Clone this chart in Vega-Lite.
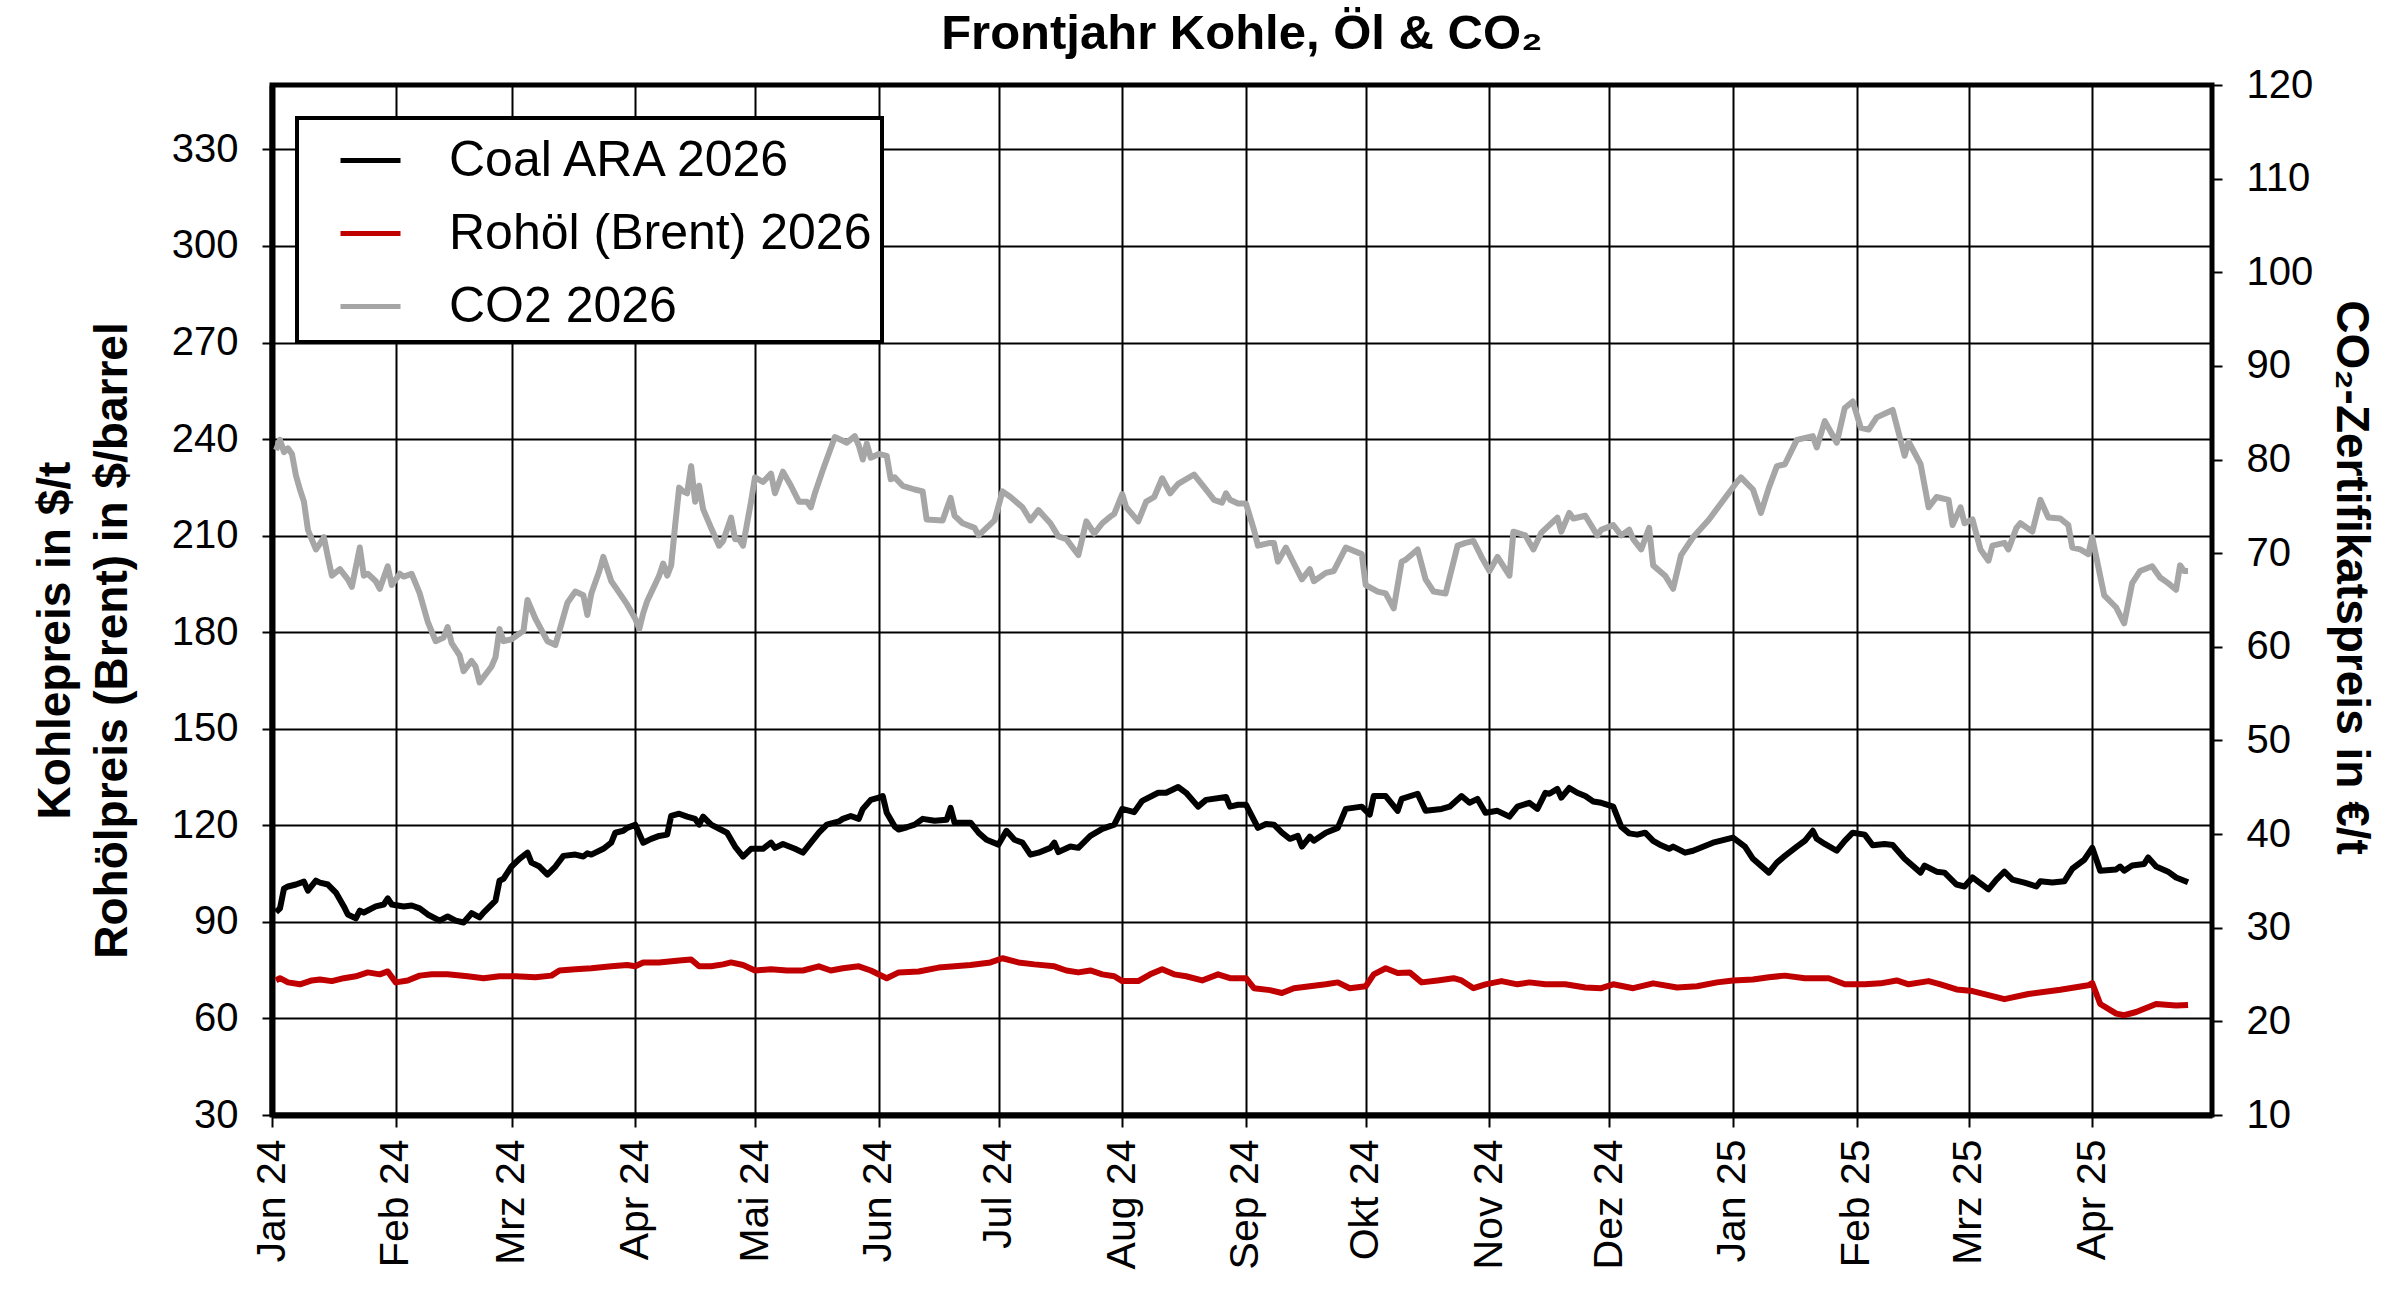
{
  "$schema": "https://vega.github.io/schema/vega-lite/v6.json",
  "autosize": {"type": "none"},
  "width": 1940,
  "height": 1030,
  "padding": {"left": 272, "top": 85, "right": 188, "bottom": 176},
  "background": "white",
  "title": {
    "text": "Frontjahr Kohle, Öl & CO₂",
    "font": "Liberation Sans",
    "fontSize": 49,
    "fontWeight": "bold",
    "color": "black",
    "anchor": "middle",
    "offset": 6
  },
  "config": {
    "font": "Liberation Sans",
    "view": {"stroke": "black", "strokeWidth": 5},
    "axis": {
      "labelColor": "black",
      "titleColor": "black",
      "tickColor": "black",
      "domainColor": "black",
      "gridColor": "black",
      "gridOpacity": 1,
      "labelFont": "Liberation Sans",
      "titleFont": "Liberation Sans"
    },
    "legend": {
      "strokeColor": "black",
      "strokeWidth": 4,
      "fillColor": "white",
      "padding": 10,
      "labelFont": "Liberation Sans"
    }
  },
  "datasets": {
    "coal": [
      {"date": "2024-01-02", "value": 93.0}, {"date": "2024-01-03", "value": 94.2}, {"date": "2024-01-04", "value": 100.3},
      {"date": "2024-01-05", "value": 101.0}, {"date": "2024-01-07", "value": 101.6}, {"date": "2024-01-09", "value": 102.5},
      {"date": "2024-01-10", "value": 99.7}, {"date": "2024-01-12", "value": 102.8}, {"date": "2024-01-13", "value": 102.2},
      {"date": "2024-01-15", "value": 101.6}, {"date": "2024-01-17", "value": 99.1}, {"date": "2024-01-19", "value": 94.8},
      {"date": "2024-01-20", "value": 92.3}, {"date": "2024-01-22", "value": 91.1}, {"date": "2024-01-23", "value": 93.5},
      {"date": "2024-01-24", "value": 92.9}, {"date": "2024-01-27", "value": 94.8}, {"date": "2024-01-29", "value": 95.4},
      {"date": "2024-01-30", "value": 97.3}, {"date": "2024-01-31", "value": 95.4}, {"date": "2024-02-03", "value": 94.8},
      {"date": "2024-02-05", "value": 95.1}, {"date": "2024-02-07", "value": 94.2}, {"date": "2024-02-09", "value": 92.3},
      {"date": "2024-02-12", "value": 90.4}, {"date": "2024-02-14", "value": 91.7}, {"date": "2024-02-16", "value": 90.4},
      {"date": "2024-02-18", "value": 89.8}, {"date": "2024-02-20", "value": 92.7}, {"date": "2024-02-22", "value": 91.4},
      {"date": "2024-02-23", "value": 92.9}, {"date": "2024-02-26", "value": 96.6}, {"date": "2024-02-27", "value": 102.8},
      {"date": "2024-02-28", "value": 103.4}, {"date": "2024-03-01", "value": 107.2}, {"date": "2024-03-03", "value": 109.6},
      {"date": "2024-03-05", "value": 111.5}, {"date": "2024-03-06", "value": 108.4}, {"date": "2024-03-08", "value": 107.2},
      {"date": "2024-03-10", "value": 104.7}, {"date": "2024-03-12", "value": 107.2}, {"date": "2024-03-14", "value": 110.5},
      {"date": "2024-03-17", "value": 110.9}, {"date": "2024-03-19", "value": 110.3}, {"date": "2024-03-20", "value": 111.3},
      {"date": "2024-03-21", "value": 110.9}, {"date": "2024-03-24", "value": 112.7}, {"date": "2024-03-26", "value": 114.6},
      {"date": "2024-03-27", "value": 117.7}, {"date": "2024-03-29", "value": 118.3}, {"date": "2024-03-30", "value": 119.2},
      {"date": "2024-04-01", "value": 120.2}, {"date": "2024-04-03", "value": 114.6}, {"date": "2024-04-05", "value": 115.8},
      {"date": "2024-04-07", "value": 116.7}, {"date": "2024-04-09", "value": 117.1}, {"date": "2024-04-10", "value": 122.9},
      {"date": "2024-04-12", "value": 123.6}, {"date": "2024-04-14", "value": 122.7}, {"date": "2024-04-16", "value": 122.0},
      {"date": "2024-04-17", "value": 120.2}, {"date": "2024-04-18", "value": 122.7}, {"date": "2024-04-20", "value": 120.2},
      {"date": "2024-04-23", "value": 118.3}, {"date": "2024-04-24", "value": 117.7}, {"date": "2024-04-26", "value": 113.4},
      {"date": "2024-04-28", "value": 110.3}, {"date": "2024-04-30", "value": 112.7}, {"date": "2024-05-03", "value": 112.7},
      {"date": "2024-05-05", "value": 114.6}, {"date": "2024-05-06", "value": 113.0}, {"date": "2024-05-08", "value": 114.2},
      {"date": "2024-05-11", "value": 112.7}, {"date": "2024-05-13", "value": 111.5}, {"date": "2024-05-15", "value": 114.6},
      {"date": "2024-05-17", "value": 117.7}, {"date": "2024-05-19", "value": 120.2}, {"date": "2024-05-22", "value": 121.2},
      {"date": "2024-05-23", "value": 122.0}, {"date": "2024-05-25", "value": 122.9}, {"date": "2024-05-27", "value": 122.0},
      {"date": "2024-05-28", "value": 125.1}, {"date": "2024-05-30", "value": 127.9}, {"date": "2024-06-01", "value": 128.6},
      {"date": "2024-06-02", "value": 129.1}, {"date": "2024-06-03", "value": 123.9}, {"date": "2024-06-05", "value": 119.6},
      {"date": "2024-06-06", "value": 118.7}, {"date": "2024-06-08", "value": 119.4}, {"date": "2024-06-10", "value": 120.2},
      {"date": "2024-06-12", "value": 122.0}, {"date": "2024-06-15", "value": 121.4}, {"date": "2024-06-18", "value": 121.7},
      {"date": "2024-06-19", "value": 125.4}, {"date": "2024-06-20", "value": 120.8}, {"date": "2024-06-22", "value": 120.8},
      {"date": "2024-06-24", "value": 120.8}, {"date": "2024-06-26", "value": 117.7}, {"date": "2024-06-28", "value": 115.5},
      {"date": "2024-07-01", "value": 114.0}, {"date": "2024-07-03", "value": 118.3}, {"date": "2024-07-05", "value": 115.5},
      {"date": "2024-07-07", "value": 114.6}, {"date": "2024-07-09", "value": 110.9}, {"date": "2024-07-11", "value": 111.5},
      {"date": "2024-07-14", "value": 113.0}, {"date": "2024-07-15", "value": 114.6}, {"date": "2024-07-16", "value": 111.7},
      {"date": "2024-07-19", "value": 113.4}, {"date": "2024-07-21", "value": 113.0}, {"date": "2024-07-24", "value": 116.7},
      {"date": "2024-07-27", "value": 118.9}, {"date": "2024-07-30", "value": 120.2}, {"date": "2024-08-01", "value": 125.1},
      {"date": "2024-08-04", "value": 124.1}, {"date": "2024-08-06", "value": 127.6}, {"date": "2024-08-10", "value": 130.1},
      {"date": "2024-08-12", "value": 130.1}, {"date": "2024-08-15", "value": 131.9}, {"date": "2024-08-17", "value": 130.1},
      {"date": "2024-08-20", "value": 125.8}, {"date": "2024-08-22", "value": 127.9}, {"date": "2024-08-27", "value": 128.8},
      {"date": "2024-08-28", "value": 125.8}, {"date": "2024-08-30", "value": 126.4}, {"date": "2024-09-01", "value": 126.4},
      {"date": "2024-09-04", "value": 119.2}, {"date": "2024-09-06", "value": 120.4}, {"date": "2024-09-08", "value": 120.2},
      {"date": "2024-09-10", "value": 117.7}, {"date": "2024-09-12", "value": 115.8}, {"date": "2024-09-14", "value": 116.7},
      {"date": "2024-09-15", "value": 113.4}, {"date": "2024-09-17", "value": 116.5}, {"date": "2024-09-18", "value": 115.2},
      {"date": "2024-09-21", "value": 117.7}, {"date": "2024-09-24", "value": 119.2}, {"date": "2024-09-26", "value": 125.1},
      {"date": "2024-09-30", "value": 125.8}, {"date": "2024-10-02", "value": 123.3}, {"date": "2024-10-03", "value": 129.1},
      {"date": "2024-10-06", "value": 129.1}, {"date": "2024-10-09", "value": 124.5}, {"date": "2024-10-10", "value": 128.2},
      {"date": "2024-10-14", "value": 129.8}, {"date": "2024-10-16", "value": 124.5}, {"date": "2024-10-20", "value": 125.1},
      {"date": "2024-10-22", "value": 125.8}, {"date": "2024-10-25", "value": 129.1}, {"date": "2024-10-27", "value": 127.0},
      {"date": "2024-10-29", "value": 128.2}, {"date": "2024-10-31", "value": 123.9}, {"date": "2024-11-03", "value": 124.5},
      {"date": "2024-11-06", "value": 122.7}, {"date": "2024-11-08", "value": 125.8}, {"date": "2024-11-11", "value": 127.0},
      {"date": "2024-11-13", "value": 125.1}, {"date": "2024-11-15", "value": 130.1}, {"date": "2024-11-16", "value": 129.8},
      {"date": "2024-11-18", "value": 131.3}, {"date": "2024-11-19", "value": 128.6}, {"date": "2024-11-21", "value": 131.6},
      {"date": "2024-11-23", "value": 130.1}, {"date": "2024-11-25", "value": 129.1}, {"date": "2024-11-27", "value": 127.4},
      {"date": "2024-11-29", "value": 127.0}, {"date": "2024-12-02", "value": 125.8}, {"date": "2024-12-04", "value": 119.6},
      {"date": "2024-12-06", "value": 117.5}, {"date": "2024-12-08", "value": 117.1}, {"date": "2024-12-10", "value": 117.7},
      {"date": "2024-12-12", "value": 115.2}, {"date": "2024-12-14", "value": 113.8}, {"date": "2024-12-16", "value": 112.7},
      {"date": "2024-12-17", "value": 113.4}, {"date": "2024-12-20", "value": 111.5}, {"date": "2024-12-22", "value": 112.1},
      {"date": "2024-12-27", "value": 114.6}, {"date": "2025-01-01", "value": 116.2}, {"date": "2025-01-04", "value": 113.4},
      {"date": "2025-01-06", "value": 109.6}, {"date": "2025-01-10", "value": 105.3}, {"date": "2025-01-12", "value": 108.4},
      {"date": "2025-01-14", "value": 110.5}, {"date": "2025-01-17", "value": 113.4}, {"date": "2025-01-19", "value": 115.2},
      {"date": "2025-01-21", "value": 118.3}, {"date": "2025-01-22", "value": 115.8}, {"date": "2025-01-24", "value": 114.2},
      {"date": "2025-01-27", "value": 112.1}, {"date": "2025-01-29", "value": 115.2}, {"date": "2025-01-31", "value": 117.7},
      {"date": "2025-02-03", "value": 117.1}, {"date": "2025-02-05", "value": 113.8}, {"date": "2025-02-08", "value": 114.2},
      {"date": "2025-02-10", "value": 113.9}, {"date": "2025-02-13", "value": 109.6}, {"date": "2025-02-17", "value": 105.3},
      {"date": "2025-02-18", "value": 107.5}, {"date": "2025-02-21", "value": 105.6}, {"date": "2025-02-23", "value": 105.3},
      {"date": "2025-02-26", "value": 101.6}, {"date": "2025-02-28", "value": 101.0}, {"date": "2025-03-02", "value": 103.8},
      {"date": "2025-03-06", "value": 100.1}, {"date": "2025-03-08", "value": 103.1}, {"date": "2025-03-10", "value": 105.6},
      {"date": "2025-03-12", "value": 103.1}, {"date": "2025-03-15", "value": 102.2}, {"date": "2025-03-18", "value": 101.0},
      {"date": "2025-03-19", "value": 102.6}, {"date": "2025-03-22", "value": 102.2}, {"date": "2025-03-25", "value": 102.6},
      {"date": "2025-03-27", "value": 106.5}, {"date": "2025-03-30", "value": 109.3}, {"date": "2025-04-01", "value": 113.0},
      {"date": "2025-04-03", "value": 105.9}, {"date": "2025-04-07", "value": 106.3}, {"date": "2025-04-08", "value": 107.2},
      {"date": "2025-04-09", "value": 105.9}, {"date": "2025-04-11", "value": 107.5}, {"date": "2025-04-14", "value": 108.0},
      {"date": "2025-04-15", "value": 110.0}, {"date": "2025-04-17", "value": 107.2}, {"date": "2025-04-20", "value": 105.6},
      {"date": "2025-04-22", "value": 103.8}, {"date": "2025-04-25", "value": 102.3}
    ],
    "brent": [
      {"date": "2024-01-02", "value": 71.8}, {"date": "2024-01-03", "value": 72.5}, {"date": "2024-01-05", "value": 71.2},
      {"date": "2024-01-08", "value": 70.6}, {"date": "2024-01-11", "value": 71.8}, {"date": "2024-01-13", "value": 72.1},
      {"date": "2024-01-16", "value": 71.6}, {"date": "2024-01-19", "value": 72.5}, {"date": "2024-01-22", "value": 73.1},
      {"date": "2024-01-25", "value": 74.3}, {"date": "2024-01-28", "value": 73.7}, {"date": "2024-01-30", "value": 74.6},
      {"date": "2024-02-01", "value": 71.2}, {"date": "2024-02-04", "value": 71.8}, {"date": "2024-02-07", "value": 73.3},
      {"date": "2024-02-10", "value": 73.7}, {"date": "2024-02-14", "value": 73.7}, {"date": "2024-02-19", "value": 73.1},
      {"date": "2024-02-23", "value": 72.5}, {"date": "2024-02-27", "value": 73.1}, {"date": "2024-03-02", "value": 73.1},
      {"date": "2024-03-07", "value": 72.8}, {"date": "2024-03-11", "value": 73.3}, {"date": "2024-03-13", "value": 74.9},
      {"date": "2024-03-17", "value": 75.3}, {"date": "2024-03-21", "value": 75.6}, {"date": "2024-03-26", "value": 76.2},
      {"date": "2024-03-30", "value": 76.6}, {"date": "2024-04-01", "value": 76.2}, {"date": "2024-04-03", "value": 77.4},
      {"date": "2024-04-07", "value": 77.4}, {"date": "2024-04-12", "value": 78.0}, {"date": "2024-04-15", "value": 78.3},
      {"date": "2024-04-17", "value": 76.2}, {"date": "2024-04-20", "value": 76.2}, {"date": "2024-04-23", "value": 76.8},
      {"date": "2024-04-25", "value": 77.4}, {"date": "2024-04-28", "value": 76.6}, {"date": "2024-05-01", "value": 74.9},
      {"date": "2024-05-05", "value": 75.3}, {"date": "2024-05-09", "value": 74.9}, {"date": "2024-05-13", "value": 74.9},
      {"date": "2024-05-17", "value": 76.2}, {"date": "2024-05-20", "value": 74.9}, {"date": "2024-05-23", "value": 75.6},
      {"date": "2024-05-27", "value": 76.2}, {"date": "2024-05-30", "value": 74.9}, {"date": "2024-06-03", "value": 72.5},
      {"date": "2024-06-06", "value": 74.3}, {"date": "2024-06-11", "value": 74.6}, {"date": "2024-06-16", "value": 75.8},
      {"date": "2024-06-20", "value": 76.2}, {"date": "2024-06-24", "value": 76.6}, {"date": "2024-06-29", "value": 77.4},
      {"date": "2024-07-02", "value": 78.7}, {"date": "2024-07-06", "value": 77.4}, {"date": "2024-07-10", "value": 76.8},
      {"date": "2024-07-15", "value": 76.2}, {"date": "2024-07-18", "value": 74.9}, {"date": "2024-07-21", "value": 74.3},
      {"date": "2024-07-24", "value": 74.9}, {"date": "2024-07-27", "value": 73.7}, {"date": "2024-07-30", "value": 73.1},
      {"date": "2024-08-01", "value": 71.6}, {"date": "2024-08-05", "value": 71.6}, {"date": "2024-08-08", "value": 73.7},
      {"date": "2024-08-11", "value": 75.3}, {"date": "2024-08-14", "value": 73.7}, {"date": "2024-08-17", "value": 73.1},
      {"date": "2024-08-21", "value": 71.8}, {"date": "2024-08-25", "value": 73.7}, {"date": "2024-08-28", "value": 72.5},
      {"date": "2024-09-01", "value": 72.5}, {"date": "2024-09-03", "value": 69.4}, {"date": "2024-09-07", "value": 68.8},
      {"date": "2024-09-10", "value": 67.9}, {"date": "2024-09-13", "value": 69.4}, {"date": "2024-09-17", "value": 70.0},
      {"date": "2024-09-21", "value": 70.6}, {"date": "2024-09-24", "value": 71.2}, {"date": "2024-09-27", "value": 69.4},
      {"date": "2024-10-01", "value": 70.0}, {"date": "2024-10-03", "value": 73.7}, {"date": "2024-10-06", "value": 75.6},
      {"date": "2024-10-09", "value": 74.1}, {"date": "2024-10-12", "value": 74.3}, {"date": "2024-10-15", "value": 71.2},
      {"date": "2024-10-19", "value": 71.8}, {"date": "2024-10-23", "value": 72.5}, {"date": "2024-10-25", "value": 71.8},
      {"date": "2024-10-28", "value": 69.4}, {"date": "2024-10-31", "value": 70.6}, {"date": "2024-11-04", "value": 71.6},
      {"date": "2024-11-08", "value": 70.6}, {"date": "2024-11-11", "value": 71.2}, {"date": "2024-11-15", "value": 70.6},
      {"date": "2024-11-20", "value": 70.6}, {"date": "2024-11-25", "value": 69.6}, {"date": "2024-11-29", "value": 69.4},
      {"date": "2024-12-02", "value": 70.6}, {"date": "2024-12-07", "value": 69.4}, {"date": "2024-12-12", "value": 70.9},
      {"date": "2024-12-18", "value": 69.6}, {"date": "2024-12-23", "value": 70.0}, {"date": "2024-12-28", "value": 71.2},
      {"date": "2025-01-01", "value": 71.8}, {"date": "2025-01-06", "value": 72.1}, {"date": "2025-01-10", "value": 72.8},
      {"date": "2025-01-14", "value": 73.3}, {"date": "2025-01-19", "value": 72.5}, {"date": "2025-01-25", "value": 72.5},
      {"date": "2025-01-29", "value": 70.6}, {"date": "2025-02-03", "value": 70.6}, {"date": "2025-02-07", "value": 70.9},
      {"date": "2025-02-11", "value": 71.8}, {"date": "2025-02-14", "value": 70.6}, {"date": "2025-02-19", "value": 71.6},
      {"date": "2025-02-22", "value": 70.6}, {"date": "2025-02-26", "value": 69.0}, {"date": "2025-03-02", "value": 68.5},
      {"date": "2025-03-10", "value": 66.0}, {"date": "2025-03-16", "value": 67.6}, {"date": "2025-03-24", "value": 68.9},
      {"date": "2025-03-31", "value": 70.3}, {"date": "2025-04-01", "value": 71.0}, {"date": "2025-04-03", "value": 64.5},
      {"date": "2025-04-07", "value": 61.5}, {"date": "2025-04-09", "value": 61.0}, {"date": "2025-04-12", "value": 62.0},
      {"date": "2025-04-17", "value": 64.5}, {"date": "2025-04-22", "value": 64.0}, {"date": "2025-04-25", "value": 64.2}
    ],
    "co2": [
      {"date": "2024-01-02", "value": 81.0}, {"date": "2024-01-03", "value": 82.1}, {"date": "2024-01-04", "value": 80.8},
      {"date": "2024-01-05", "value": 81.2}, {"date": "2024-01-06", "value": 80.6}, {"date": "2024-01-07", "value": 78.3},
      {"date": "2024-01-08", "value": 76.8}, {"date": "2024-01-09", "value": 75.5}, {"date": "2024-01-10", "value": 72.5},
      {"date": "2024-01-12", "value": 70.4}, {"date": "2024-01-13", "value": 71.0}, {"date": "2024-01-14", "value": 71.7},
      {"date": "2024-01-15", "value": 69.6}, {"date": "2024-01-16", "value": 67.6}, {"date": "2024-01-18", "value": 68.3},
      {"date": "2024-01-20", "value": 67.2}, {"date": "2024-01-21", "value": 66.4}, {"date": "2024-01-23", "value": 70.6},
      {"date": "2024-01-24", "value": 67.6}, {"date": "2024-01-25", "value": 67.8}, {"date": "2024-01-27", "value": 67.0},
      {"date": "2024-01-28", "value": 66.2}, {"date": "2024-01-30", "value": 68.6}, {"date": "2024-01-31", "value": 66.6},
      {"date": "2024-02-02", "value": 67.8}, {"date": "2024-02-03", "value": 67.5}, {"date": "2024-02-05", "value": 67.8},
      {"date": "2024-02-07", "value": 65.7}, {"date": "2024-02-09", "value": 62.7}, {"date": "2024-02-11", "value": 60.6},
      {"date": "2024-02-13", "value": 61.0}, {"date": "2024-02-14", "value": 62.1}, {"date": "2024-02-15", "value": 60.4},
      {"date": "2024-02-17", "value": 59.1}, {"date": "2024-02-18", "value": 57.4}, {"date": "2024-02-20", "value": 58.5},
      {"date": "2024-02-21", "value": 57.9}, {"date": "2024-02-22", "value": 56.2}, {"date": "2024-02-25", "value": 57.9},
      {"date": "2024-02-26", "value": 58.9}, {"date": "2024-02-27", "value": 61.9}, {"date": "2024-02-28", "value": 60.6},
      {"date": "2024-03-01", "value": 60.8}, {"date": "2024-03-04", "value": 61.7}, {"date": "2024-03-05", "value": 65.0},
      {"date": "2024-03-07", "value": 63.0}, {"date": "2024-03-10", "value": 60.6}, {"date": "2024-03-11", "value": 60.4},
      {"date": "2024-03-12", "value": 60.2}, {"date": "2024-03-14", "value": 63.2}, {"date": "2024-03-15", "value": 64.7},
      {"date": "2024-03-17", "value": 65.9}, {"date": "2024-03-19", "value": 65.5}, {"date": "2024-03-20", "value": 63.4},
      {"date": "2024-03-21", "value": 65.7}, {"date": "2024-03-23", "value": 68.1}, {"date": "2024-03-24", "value": 69.6},
      {"date": "2024-03-26", "value": 67.0}, {"date": "2024-03-27", "value": 66.4}, {"date": "2024-03-30", "value": 64.5},
      {"date": "2024-04-01", "value": 63.0}, {"date": "2024-04-02", "value": 61.9}, {"date": "2024-04-03", "value": 63.6},
      {"date": "2024-04-04", "value": 64.9}, {"date": "2024-04-07", "value": 67.6}, {"date": "2024-04-08", "value": 68.9},
      {"date": "2024-04-09", "value": 67.6}, {"date": "2024-04-10", "value": 68.7}, {"date": "2024-04-11", "value": 73.0},
      {"date": "2024-04-12", "value": 77.0}, {"date": "2024-04-13", "value": 76.6}, {"date": "2024-04-14", "value": 76.4},
      {"date": "2024-04-15", "value": 79.3}, {"date": "2024-04-16", "value": 75.5}, {"date": "2024-04-17", "value": 77.2},
      {"date": "2024-04-18", "value": 74.7}, {"date": "2024-04-20", "value": 72.7}, {"date": "2024-04-22", "value": 70.8},
      {"date": "2024-04-23", "value": 71.3}, {"date": "2024-04-25", "value": 73.8}, {"date": "2024-04-26", "value": 71.5},
      {"date": "2024-04-27", "value": 71.5}, {"date": "2024-04-28", "value": 70.8}, {"date": "2024-04-30", "value": 75.5},
      {"date": "2024-05-01", "value": 78.1}, {"date": "2024-05-03", "value": 77.6}, {"date": "2024-05-05", "value": 78.5},
      {"date": "2024-05-06", "value": 76.4}, {"date": "2024-05-08", "value": 78.7}, {"date": "2024-05-10", "value": 77.2},
      {"date": "2024-05-12", "value": 75.5}, {"date": "2024-05-14", "value": 75.5}, {"date": "2024-05-15", "value": 74.9},
      {"date": "2024-05-16", "value": 76.4}, {"date": "2024-05-18", "value": 78.9}, {"date": "2024-05-21", "value": 82.4},
      {"date": "2024-05-23", "value": 82.0}, {"date": "2024-05-24", "value": 81.8}, {"date": "2024-05-26", "value": 82.5},
      {"date": "2024-05-27", "value": 81.5}, {"date": "2024-05-28", "value": 80.0}, {"date": "2024-05-29", "value": 81.7},
      {"date": "2024-05-30", "value": 80.2}, {"date": "2024-06-01", "value": 80.6}, {"date": "2024-06-03", "value": 80.4},
      {"date": "2024-06-04", "value": 77.9}, {"date": "2024-06-05", "value": 78.1}, {"date": "2024-06-07", "value": 77.2},
      {"date": "2024-06-10", "value": 76.8}, {"date": "2024-06-12", "value": 76.6}, {"date": "2024-06-13", "value": 73.6},
      {"date": "2024-06-17", "value": 73.5}, {"date": "2024-06-19", "value": 75.9}, {"date": "2024-06-20", "value": 74.0},
      {"date": "2024-06-22", "value": 73.2}, {"date": "2024-06-25", "value": 72.7}, {"date": "2024-06-26", "value": 71.9},
      {"date": "2024-06-28", "value": 72.7}, {"date": "2024-06-30", "value": 73.5}, {"date": "2024-07-02", "value": 76.6},
      {"date": "2024-07-04", "value": 76.0}, {"date": "2024-07-07", "value": 74.9}, {"date": "2024-07-09", "value": 73.5},
      {"date": "2024-07-11", "value": 74.6}, {"date": "2024-07-14", "value": 73.2}, {"date": "2024-07-16", "value": 71.8},
      {"date": "2024-07-18", "value": 71.5}, {"date": "2024-07-21", "value": 69.8}, {"date": "2024-07-23", "value": 73.4},
      {"date": "2024-07-25", "value": 72.1}, {"date": "2024-07-27", "value": 73.2}, {"date": "2024-07-29", "value": 73.9},
      {"date": "2024-07-30", "value": 74.2}, {"date": "2024-08-01", "value": 76.3}, {"date": "2024-08-02", "value": 74.9},
      {"date": "2024-08-05", "value": 73.4}, {"date": "2024-08-07", "value": 75.5}, {"date": "2024-08-09", "value": 76.0},
      {"date": "2024-08-11", "value": 78.0}, {"date": "2024-08-13", "value": 76.4}, {"date": "2024-08-15", "value": 77.4},
      {"date": "2024-08-19", "value": 78.4}, {"date": "2024-08-22", "value": 76.8}, {"date": "2024-08-24", "value": 75.7},
      {"date": "2024-08-26", "value": 75.4}, {"date": "2024-08-27", "value": 76.4}, {"date": "2024-08-28", "value": 75.7},
      {"date": "2024-08-30", "value": 75.3}, {"date": "2024-09-01", "value": 75.3}, {"date": "2024-09-03", "value": 72.5},
      {"date": "2024-09-04", "value": 70.8}, {"date": "2024-09-07", "value": 71.1}, {"date": "2024-09-08", "value": 71.1},
      {"date": "2024-09-09", "value": 69.1}, {"date": "2024-09-11", "value": 70.6}, {"date": "2024-09-13", "value": 68.9},
      {"date": "2024-09-15", "value": 67.2}, {"date": "2024-09-17", "value": 68.3}, {"date": "2024-09-18", "value": 67.0},
      {"date": "2024-09-21", "value": 67.9}, {"date": "2024-09-23", "value": 68.1}, {"date": "2024-09-26", "value": 70.6},
      {"date": "2024-09-30", "value": 69.9}, {"date": "2024-10-01", "value": 66.6}, {"date": "2024-10-04", "value": 65.9},
      {"date": "2024-10-06", "value": 65.7}, {"date": "2024-10-08", "value": 64.1}, {"date": "2024-10-10", "value": 69.1},
      {"date": "2024-10-11", "value": 69.3}, {"date": "2024-10-14", "value": 70.4}, {"date": "2024-10-16", "value": 67.2},
      {"date": "2024-10-18", "value": 65.9}, {"date": "2024-10-21", "value": 65.7}, {"date": "2024-10-24", "value": 70.8},
      {"date": "2024-10-26", "value": 71.1}, {"date": "2024-10-28", "value": 71.3}, {"date": "2024-10-30", "value": 69.6},
      {"date": "2024-11-01", "value": 68.1}, {"date": "2024-11-03", "value": 69.6}, {"date": "2024-11-06", "value": 67.6},
      {"date": "2024-11-07", "value": 72.3}, {"date": "2024-11-10", "value": 71.9}, {"date": "2024-11-12", "value": 70.4},
      {"date": "2024-11-14", "value": 72.2}, {"date": "2024-11-16", "value": 73.0}, {"date": "2024-11-18", "value": 73.8},
      {"date": "2024-11-19", "value": 72.3}, {"date": "2024-11-21", "value": 74.3}, {"date": "2024-11-22", "value": 73.7},
      {"date": "2024-11-25", "value": 74.0}, {"date": "2024-11-28", "value": 71.9}, {"date": "2024-11-29", "value": 72.5},
      {"date": "2024-12-02", "value": 73.0}, {"date": "2024-12-04", "value": 71.9}, {"date": "2024-12-06", "value": 72.5},
      {"date": "2024-12-07", "value": 71.5}, {"date": "2024-12-09", "value": 70.4}, {"date": "2024-12-11", "value": 72.7},
      {"date": "2024-12-12", "value": 68.7}, {"date": "2024-12-15", "value": 67.6}, {"date": "2024-12-17", "value": 66.2},
      {"date": "2024-12-19", "value": 69.8}, {"date": "2024-12-22", "value": 71.7}, {"date": "2024-12-26", "value": 73.6},
      {"date": "2024-12-30", "value": 75.9}, {"date": "2025-01-02", "value": 77.6}, {"date": "2025-01-03", "value": 78.1},
      {"date": "2025-01-06", "value": 76.8}, {"date": "2025-01-08", "value": 74.3}, {"date": "2025-01-10", "value": 77.0},
      {"date": "2025-01-12", "value": 79.3}, {"date": "2025-01-14", "value": 79.5}, {"date": "2025-01-17", "value": 82.1},
      {"date": "2025-01-21", "value": 82.5}, {"date": "2025-01-22", "value": 81.3}, {"date": "2025-01-24", "value": 84.1},
      {"date": "2025-01-27", "value": 81.8}, {"date": "2025-01-29", "value": 85.5}, {"date": "2025-01-31", "value": 86.2},
      {"date": "2025-02-02", "value": 83.4}, {"date": "2025-02-04", "value": 83.2}, {"date": "2025-02-06", "value": 84.5},
      {"date": "2025-02-10", "value": 85.3}, {"date": "2025-02-13", "value": 80.4}, {"date": "2025-02-14", "value": 81.9},
      {"date": "2025-02-17", "value": 79.5}, {"date": "2025-02-19", "value": 74.9}, {"date": "2025-02-21", "value": 76.0},
      {"date": "2025-02-24", "value": 75.7}, {"date": "2025-02-25", "value": 73.0}, {"date": "2025-02-27", "value": 74.9},
      {"date": "2025-02-28", "value": 73.2}, {"date": "2025-03-02", "value": 73.6}, {"date": "2025-03-04", "value": 70.4},
      {"date": "2025-03-06", "value": 69.2}, {"date": "2025-03-07", "value": 70.8}, {"date": "2025-03-10", "value": 71.1},
      {"date": "2025-03-11", "value": 70.4}, {"date": "2025-03-13", "value": 72.7}, {"date": "2025-03-14", "value": 73.2},
      {"date": "2025-03-17", "value": 72.3}, {"date": "2025-03-19", "value": 75.7}, {"date": "2025-03-21", "value": 73.8},
      {"date": "2025-03-24", "value": 73.7}, {"date": "2025-03-26", "value": 73.0}, {"date": "2025-03-27", "value": 70.6},
      {"date": "2025-03-29", "value": 70.4}, {"date": "2025-03-31", "value": 69.9}, {"date": "2025-04-01", "value": 71.7},
      {"date": "2025-04-02", "value": 69.6}, {"date": "2025-04-04", "value": 65.5}, {"date": "2025-04-07", "value": 64.2},
      {"date": "2025-04-09", "value": 62.5}, {"date": "2025-04-11", "value": 66.8}, {"date": "2025-04-13", "value": 68.1},
      {"date": "2025-04-16", "value": 68.6}, {"date": "2025-04-18", "value": 67.4}, {"date": "2025-04-20", "value": 66.8},
      {"date": "2025-04-22", "value": 66.1}, {"date": "2025-04-23", "value": 68.7}, {"date": "2025-04-24", "value": 68.1},
      {"date": "2025-04-25", "value": 68.1}
    ]
  },
  "encoding": {
    "x": {
      "field": "date",
      "type": "temporal",
      "scale": {
        "type": "utc",
        "domain": [
          {"year": 2024, "month": 1, "date": 1, "utc": true},
          {"year": 2025, "month": 5, "date": 1, "utc": true}
        ]
      },
      "axis": {
        "title": null,
        "values": [
          {"year": 2024, "month": 1, "date": 1, "utc": true},
          {"year": 2024, "month": 2, "date": 1, "utc": true},
          {"year": 2024, "month": 3, "date": 1, "utc": true},
          {"year": 2024, "month": 4, "date": 1, "utc": true},
          {"year": 2024, "month": 5, "date": 1, "utc": true},
          {"year": 2024, "month": 6, "date": 1, "utc": true},
          {"year": 2024, "month": 7, "date": 1, "utc": true},
          {"year": 2024, "month": 8, "date": 1, "utc": true},
          {"year": 2024, "month": 9, "date": 1, "utc": true},
          {"year": 2024, "month": 10, "date": 1, "utc": true},
          {"year": 2024, "month": 11, "date": 1, "utc": true},
          {"year": 2024, "month": 12, "date": 1, "utc": true},
          {"year": 2025, "month": 1, "date": 1, "utc": true},
          {"year": 2025, "month": 2, "date": 1, "utc": true},
          {"year": 2025, "month": 3, "date": 1, "utc": true},
          {"year": 2025, "month": 4, "date": 1, "utc": true}
        ],
        "labelExpr": "['Jan','Feb','Mrz','Apr','Mai','Jun','Jul','Aug','Sep','Okt','Nov','Dez'][utcmonth(datum.value)] + ' ' + utcFormat(datum.value, '%y')",
        "labelAngle": -90,
        "labelAlign": "right",
        "labelBaseline": "middle",
        "labelFontSize": 41,
        "labelPadding": 12,
        "labelOverlap": false,
        "tickSize": 12,
        "tickWidth": 2,
        "domainWidth": 6,
        "grid": true,
        "gridWidth": 2
      }
    }
  },
  "layer": [
    {
      "data": {"name": "co2"},
      "mark": {"type": "line", "strokeWidth": 6, "strokeJoin": "round"},
      "encoding": {
        "y": {
          "field": "value",
          "type": "quantitative",
          "scale": {"domain": [10, 120], "nice": false, "zero": false},
          "axis": {
            "orient": "right",
            "title": "CO₂-Zertifikatspreis in €/t",
            "titleFontSize": 46,
            "titleFontWeight": "bold",
            "titlePadding": 14,
            "titleY": 492,
            "values": [10, 20, 30, 40, 50, 60, 70, 80, 90, 100, 110, 120],
            "labelFontSize": 40,
            "labelPadding": 24,
            "tickSize": 10,
            "tickWidth": 2,
            "domainWidth": 3,
            "grid": false
          }
        },
        "color": {
          "datum": "CO2 2026",
          "scale": {
            "domain": ["Coal ARA 2026", "Rohöl (Brent) 2026", "CO2 2026"],
            "range": ["#000000", "#c00000", "#a6a6a6"]
          },
          "legend": {
            "title": null,
            "orient": "none",
            "legendX": 25,
            "legendY": 33,
            "direction": "vertical",
            "symbolType": "stroke",
            "symbolSize": 3600,
            "symbolStrokeWidth": 5,
            "symbolOffset": 31,
            "labelFontSize": 50,
            "labelColor": "black",
            "labelOffset": 46,
            "labelExpr": "datum.label + '\u00a0\u00a0\u00a0'",
            "labelLimit": 900,
            "rowPadding": 15
          }
        }
      }
    },
    {
      "encoding": {
        "y": {
          "field": "value",
          "type": "quantitative",
          "scale": {"domain": [30, 350], "nice": false, "zero": false},
          "axis": {
            "orient": "left",
            "title": ["Kohlepreis in $/t", "Rohölpreis (Brent) in $/barrel"],
            "titleFontSize": 46,
            "titleFontWeight": "bold",
            "titleLineHeight": 57,
            "titlePadding": 35,
            "titleY": 555,
            "values": [30, 60, 90, 120, 150, 180, 210, 240, 270, 300, 330],
            "labelFontSize": 40,
            "labelPadding": 24,
            "tickSize": 10,
            "tickWidth": 2,
            "domainWidth": 6,
            "grid": true,
            "gridWidth": 2
          }
        }
      },
      "layer": [
        {
          "data": {"name": "coal"},
          "mark": {"type": "line", "strokeWidth": 6, "strokeJoin": "round"},
          "encoding": {
            "color": {
              "datum": "Coal ARA 2026",
              "scale": {
                "domain": ["Coal ARA 2026", "Rohöl (Brent) 2026", "CO2 2026"],
                "range": ["#000000", "#c00000", "#a6a6a6"]
              }
            }
          }
        },
        {
          "data": {"name": "brent"},
          "mark": {"type": "line", "strokeWidth": 6, "strokeJoin": "round"},
          "encoding": {
            "color": {
              "datum": "Rohöl (Brent) 2026",
              "scale": {
                "domain": ["Coal ARA 2026", "Rohöl (Brent) 2026", "CO2 2026"],
                "range": ["#000000", "#c00000", "#a6a6a6"]
              }
            }
          }
        }
      ]
    }
  ],
  "resolve": {"scale": {"y": "independent"}}
}
